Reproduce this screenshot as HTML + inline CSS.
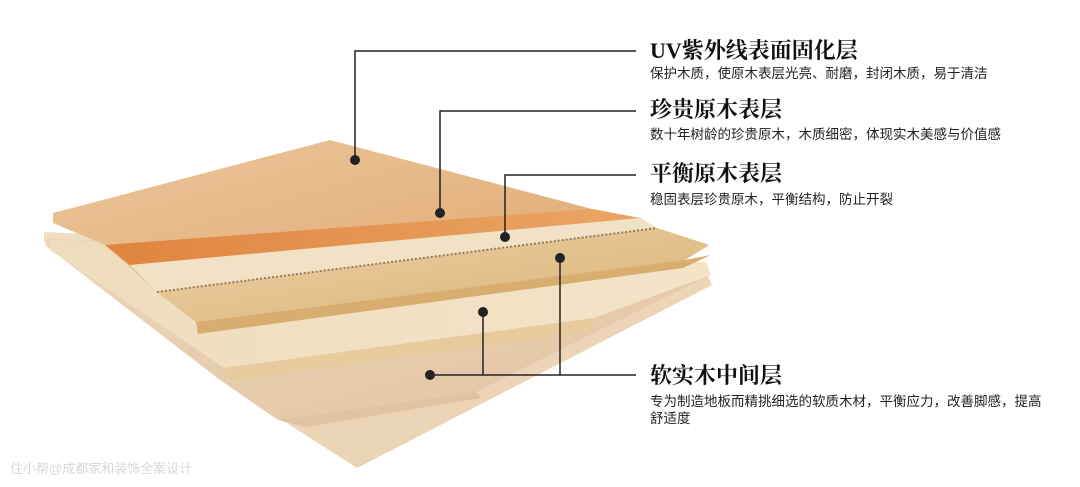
<!DOCTYPE html>
<html><head><meta charset="utf-8"><style>
html,body{margin:0;padding:0;background:#fff;}
body{width:1080px;height:487px;position:relative;overflow:hidden;font-family:"Liberation Sans","Noto Sans CJK SC",sans-serif;}
.t{position:absolute;left:650px;font-family:"Liberation Serif","Noto Serif CJK SC",serif;font-weight:bold;font-size:22px;color:#111;line-height:24px;white-space:nowrap;}
.s{position:absolute;left:650px;font-size:13.5px;color:#222;line-height:16px;white-space:nowrap;}
</style></head><body>
<svg width="1080" height="487" style="position:absolute;left:0;top:0">
<defs>
<linearGradient id="g1" x1="0" y1="0" x2="1" y2="1"><stop offset="0" stop-color="#ecc79c"/><stop offset="1" stop-color="#dea26a"/></linearGradient>
<linearGradient id="g2" x1="0" y1="0" x2="1" y2="0"><stop offset="0" stop-color="#e0843f"/><stop offset="1" stop-color="#eaa666"/></linearGradient>
<linearGradient id="gA" x1="0" y1="0" x2="1" y2="1"><stop offset="0" stop-color="#ead0a2"/><stop offset="1" stop-color="#dcb47c"/></linearGradient>
<linearGradient id="gB" x1="0" y1="0" x2="1" y2="0"><stop offset="0" stop-color="#efdcbc"/><stop offset="1" stop-color="#f3e4c8"/></linearGradient>
<linearGradient id="gC" x1="0" y1="0" x2="1" y2="1"><stop offset="0" stop-color="#ecd6ba"/><stop offset="1" stop-color="#e2c4a2"/></linearGradient>
<linearGradient id="gD" x1="0" y1="0" x2="1" y2="1"><stop offset="0" stop-color="#f0dec4"/><stop offset="1" stop-color="#e9d0ae"/></linearGradient>
</defs>
<polygon points="44,232 702,262 712,285 357,468 290,425 234,385 44,242" fill="url(#gD)"/>
<polygon points="46,238 706,270 706,277 476,392 278,420 220,380 46,246" fill="url(#gC)"/>
<polygon points="278,420 476,392 482,398 305,427" fill="#e0c4a2"/>
<polygon points="50,240 706,262 711,275 594,318 224,368 50,250" fill="url(#gB)"/>
<polygon points="224,368 594,318 592,331 230,381" fill="#e8cb9c"/>
<polygon points="53,213 330,140 592,209 640,218 657,228 709,245 685,260 196,322 157,292 130,267 105,245 53,223" fill="url(#g1)"/>
<polygon points="105,245 592,209 640,218 130,265" fill="url(#g2)"/>
<polygon points="130,265 640,218 657,228 157,292" fill="#f1e2c6"/>
<polygon points="157,292 657,228 709,245 685,260 196,322" fill="url(#gA)"/>
<polygon points="196,322 685,260 711,255 683,268 198,334" fill="#d9ad70"/>
<line x1="157" y1="292" x2="657" y2="228" stroke="#9a7a5a" stroke-width="2" stroke-dasharray="2,2"/>
<g stroke="#222" stroke-width="1.5" fill="none">
<polyline points="355,160 355,51 636,51"/>
<polyline points="440,213 440,111 636,111"/>
<polyline points="505,237 505,175 636,175"/>
<polyline points="560,258 560,375"/>
<polyline points="483,312 483,375"/>
<polyline points="430,375 636,375"/>
</g>
<g fill="#222">
<circle cx="355" cy="160" r="5"/><circle cx="440" cy="213" r="5"/><circle cx="505" cy="237" r="5"/>
<circle cx="560" cy="258" r="5"/><circle cx="483" cy="312" r="5"/><circle cx="430" cy="375" r="5"/>
</g>
</svg>
<div class="t" style="top:39px">UV紫外线表面固化层</div>
<div class="s" style="top:66px">保护木质，使原木表层光亮、耐磨，封闭木质，易于清洁</div>
<div class="t" style="top:98px">珍贵原木表层</div>
<div class="s" style="top:127px">数十年树龄的珍贵原木，木质细密，体现实木美感与价值感</div>
<div class="t" style="top:162px">平衡原木表层</div>
<div class="s" style="top:192px">稳固表层珍贵原木，平衡结构，防止开裂</div>
<div class="t" style="top:364px">软实木中间层</div>
<div class="s" style="top:394px">专为制造地板而精挑细选的软质木材，平衡应力，改善脚感，提高</div>
<div class="s" style="top:411px">舒适度</div>
<div style="position:absolute;left:10px;top:458px;font-size:13px;color:#d8d8d8;">住小帮@成都家和装饰全案设计</div>
</body></html>
